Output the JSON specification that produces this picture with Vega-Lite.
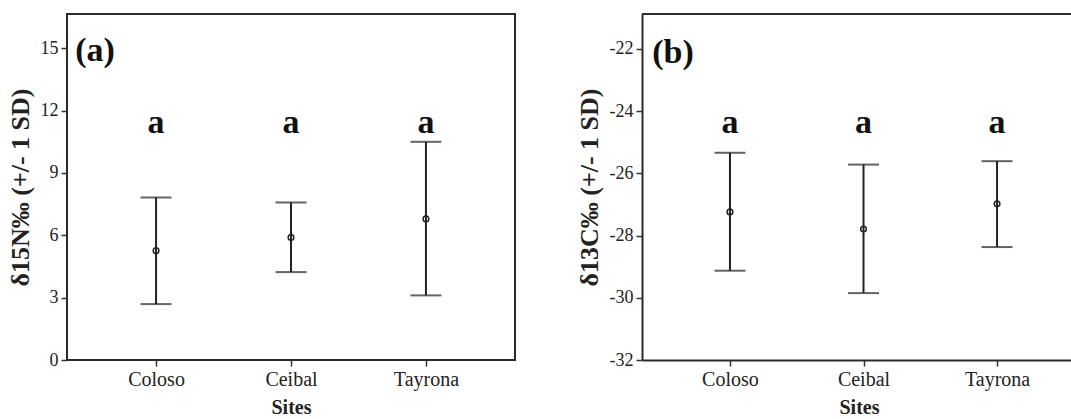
{
  "$schema": "https://vega.github.io/schema/vega-lite/v6.json",
  "padding": {"left": 6, "top": 13, "right": 0, "bottom": 0},
  "background": "white",
  "config": {
    "font": "Liberation Serif",
    "view": {"stroke": "#2a2a2a", "strokeWidth": 2},
    "style": {
      "guide-label": {"font": "Liberation Serif"},
      "guide-title": {"font": "Liberation Serif"}
    },
    "axis": {
      "labelFont": "Liberation Serif", "labelFontSize": 18, "labelColor": "#222",
      "titleFont": "Liberation Serif", "titleFontSize": 20, "titleFontWeight": "bold", "titleColor": "#222",
      "tickColor": "#333", "tickSize": 6, "tickWidth": 1.5, "grid": false,
      "domainColor": "#2a2a2a", "domainWidth": 2, "labelPadding": 3
    },
    "concat": {"spacing": 60}
  },
  "datasets": {
    "n15": [
      {"site": "Coloso", "mean": 5.26, "lo": 2.69, "hi": 7.82},
      {"site": "Ceibal", "mean": 5.9, "lo": 4.23, "hi": 7.58},
      {"site": "Tayrona", "mean": 6.79, "lo": 3.11, "hi": 10.5}
    ],
    "c13": [
      {"site": "Coloso", "mean": -27.24, "lo": -29.13, "hi": -25.34},
      {"site": "Ceibal", "mean": -27.79, "lo": -29.85, "hi": -25.72},
      {"site": "Tayrona", "mean": -26.98, "lo": -28.37, "hi": -25.61}
    ]
  },
  "hconcat": [
    {
      "width": 448, "height": 346,
      "data": {"name": "n15"},
      "layer": [
        {"mark": {"type": "rule", "color": "#222", "strokeWidth": 2},
         "encoding": {
           "x": {"field": "site", "type": "nominal", "sort": ["Coloso", "Ceibal", "Tayrona"],
                 "scale": {"type": "point", "padding": 0.66},
                 "axis": {"title": "Sites", "labelAngle": 0, "domain": false, "titlePadding": 8, "labelFontSize": 20, "labelFont": "Liberation Serif", "titleFont": "Liberation Serif"}},
           "y": {"field": "lo", "type": "quantitative", "scale": {"domain": [0, 16.65], "nice": false},
                 "axis": {"title": "δ15N‰ (+/- 1 SD)", "values": [0, 3, 6, 9, 12, 15], "domain": false, "titlePadding": 7, "titleFontSize": 26, "labelFontSize": 18, "labelFont": "Liberation Serif", "titleFont": "Liberation Serif"}},
           "y2": {"field": "hi"}}},
        {"mark": {"type": "tick", "color": "#222", "thickness": 2, "size": 31, "orient": "horizontal"},
         "encoding": {"x": {"field": "site", "type": "nominal", "sort": ["Coloso", "Ceibal", "Tayrona"]}, "y": {"field": "lo", "type": "quantitative"}}},
        {"mark": {"type": "tick", "color": "#222", "thickness": 2, "size": 31, "orient": "horizontal"},
         "encoding": {"x": {"field": "site", "type": "nominal", "sort": ["Coloso", "Ceibal", "Tayrona"]}, "y": {"field": "hi", "type": "quantitative"}}},
        {"mark": {"type": "point", "shape": "circle", "filled": false, "stroke": "#222", "strokeWidth": 1.5, "size": 32, "opacity": 1},
         "encoding": {"x": {"field": "site", "type": "nominal", "sort": ["Coloso", "Ceibal", "Tayrona"]}, "y": {"field": "mean", "type": "quantitative"}}},
        {"mark": {"type": "text", "text": "a", "fontSize": 34, "fontWeight": "bold", "baseline": "middle", "color": "#111", "font": "Liberation Serif"},
         "encoding": {"x": {"field": "site", "type": "nominal", "sort": ["Coloso", "Ceibal", "Tayrona"]}, "y": {"datum": 11.39}}},
        {"data": {"values": [{"label": "(a)"}]},
         "mark": {"type": "text", "fontSize": 34, "fontWeight": "bold", "baseline": "middle", "align": "center", "dx": -61, "dy": 3, "color": "#111", "font": "Liberation Serif"},
         "encoding": {"x": {"datum": "Coloso"}, "y": {"datum": 15}, "text": {"field": "label"}}}
      ]
    },
    {
      "width": 434, "height": 346,
      "view": {"stroke": null},
      "data": {"name": "c13"},
      "layer": [
        {"mark": {"type": "rule", "color": "#222", "strokeWidth": 2},
         "encoding": {
           "x": {"field": "site", "type": "nominal", "sort": ["Coloso", "Ceibal", "Tayrona"],
                 "scale": {"type": "point", "padding": 0.625, "align": 0.527},
                 "axis": {"title": "Sites", "labelAngle": 0, "domain": true, "titlePadding": 8, "labelFontSize": 20, "labelFont": "Liberation Serif", "titleFont": "Liberation Serif"}},
           "y": {"field": "lo", "type": "quantitative", "scale": {"domain": [-32, -20.88], "nice": false},
                 "axis": {"title": "δ13C‰ (+/- 1 SD)", "values": [-32, -30, -28, -26, -24, -22], "labelExpr": "replace(datum.label, '−', '-')", "domain": true, "titlePadding": 7, "titleFontSize": 26, "labelFontSize": 18, "labelFont": "Liberation Serif", "titleFont": "Liberation Serif"}},
           "y2": {"field": "hi"}}},
        {"mark": {"type": "tick", "color": "#222", "thickness": 2, "size": 31, "orient": "horizontal"},
         "encoding": {"x": {"field": "site", "type": "nominal", "sort": ["Coloso", "Ceibal", "Tayrona"]}, "y": {"field": "lo", "type": "quantitative"}}},
        {"mark": {"type": "tick", "color": "#222", "thickness": 2, "size": 31, "orient": "horizontal"},
         "encoding": {"x": {"field": "site", "type": "nominal", "sort": ["Coloso", "Ceibal", "Tayrona"]}, "y": {"field": "hi", "type": "quantitative"}}},
        {"mark": {"type": "point", "shape": "circle", "filled": false, "stroke": "#222", "strokeWidth": 1.5, "size": 32, "opacity": 1},
         "encoding": {"x": {"field": "site", "type": "nominal", "sort": ["Coloso", "Ceibal", "Tayrona"]}, "y": {"field": "mean", "type": "quantitative"}}},
        {"mark": {"type": "text", "text": "a", "fontSize": 34, "fontWeight": "bold", "baseline": "middle", "color": "#111", "font": "Liberation Serif"},
         "encoding": {"x": {"field": "site", "type": "nominal", "sort": ["Coloso", "Ceibal", "Tayrona"]}, "y": {"datum": -24.38}}},
        {"data": {"values": [{"label": "(b)"}]},
         "mark": {"type": "text", "fontSize": 34, "fontWeight": "bold", "baseline": "middle", "align": "center", "dx": -57, "dy": 4, "color": "#111", "font": "Liberation Serif"},
         "encoding": {"x": {"datum": "Coloso"}, "y": {"datum": -22}, "text": {"field": "label"}}},
        {"data": {"values": [{"edge": -20.88}]},
         "mark": {"type": "rule", "color": "#2a2a2a", "strokeWidth": 2},
         "encoding": {"y": {"field": "edge", "type": "quantitative"}}}
      ]
    }
  ]
}
